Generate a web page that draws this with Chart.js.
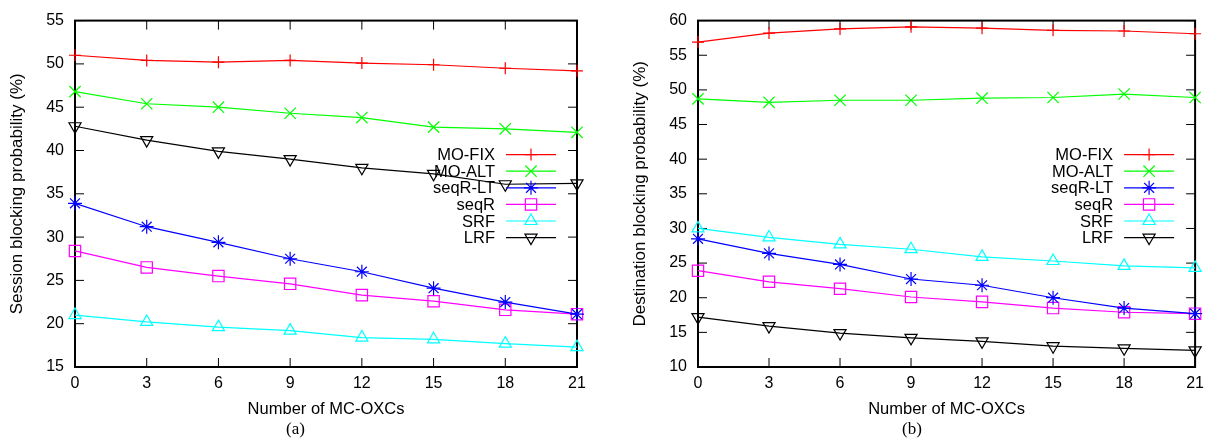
<!DOCTYPE html>
<html>
<head>
<meta charset="utf-8">
<script src="https://cdn.jsdelivr.net/npm/chart.js@4/dist/chart.umd.min.js"></script>
<style>
  body { margin: 0; background: #fff; width: 1211px; height: 441px; position: relative; overflow: hidden; }
  canvas { position: absolute; top: 0; }
  #chartA { left: 0; }
  #chartB { left: 605px; }
  .cap { position: absolute; top: 419px; font: 17px "Liberation Serif", "DejaVu Serif", serif; color: #000; }
</style>
</head>
<body>
<canvas id="chartA" width="605" height="441"></canvas>
<canvas id="chartB" width="606" height="441"></canvas>
<div class="cap" style="left:286px">(a)</div>
<div class="cap" style="left:902px">(b)</div>
<script>
const mcOxcs = [0, 3, 6, 9, 12, 15, 18, 21];
const seriesNames = ["MO-FIX", "MO-ALT", "seqR-LT", "seqR", "SRF", "LRF"];

// (a) session blocking probability (%)
const fixA    = [51.0, 50.4, 50.2, 50.4, 50.1, 49.9, 49.5, 49.2];
const altA    = [46.8, 45.4, 45.0, 44.3, 43.8, 42.7, 42.5, 42.1];
const seqRLTA = [33.9, 31.2, 29.4, 27.5, 26.0, 24.1, 22.5, 21.1];
const seqRA   = [28.4, 26.5, 25.5, 24.6, 23.3, 22.6, 21.6, 21.1];
const srfA    = [21.0, 20.2, 19.6, 19.2, 18.4, 18.2, 17.7, 17.3];
const lrfA    = [42.8, 41.2, 39.9, 39.0, 38.0, 37.3, 36.1, 36.2];

// (b) destination blocking probability (%)
const fixB    = [56.9, 58.2, 58.8, 59.1, 58.9, 58.6, 58.5, 58.1];
const altB    = [48.7, 48.2, 48.5, 48.5, 48.8, 48.9, 49.4, 48.9];
const seqRLTB = [28.5, 26.4, 24.8, 22.7, 21.8, 20.0, 18.5, 17.7];
const seqRB   = [23.9, 22.3, 21.3, 20.1, 19.4, 18.5, 17.9, 17.7];
const srfB    = [30.0, 28.7, 27.7, 27.0, 25.9, 25.3, 24.6, 24.3];
const lrfB    = [17.2, 15.9, 14.9, 14.2, 13.7, 13.0, 12.7, 12.4];

const styles = [
  { color: '#ff0000', pointStyle: 'cross',    radius: 6, rotation: 0 },
  { color: '#00ff00', pointStyle: 'crossRot', radius: 8, rotation: 0 },
  { color: '#0000ff', pointStyle: 'star',     radius: 7, rotation: 0 },
  { color: '#ff00ff', pointStyle: 'rect',     radius: 8, rotation: 0 },
  { color: '#00ffff', pointStyle: 'triangle', radius: 7, rotation: 0 },
  { color: '#000000', pointStyle: 'triangle', radius: 7, rotation: 180 }
];

const FONT = '"Liberation Sans", Arial, Helvetica, sans-serif';
Chart.defaults.color = '#000';
Chart.defaults.font.family = FONT;

function makeDatasets(list) {
  return list.map((vals, i) => ({
    label: seriesNames[i],
    data: vals.map((v, j) => ({ x: mcOxcs[j], y: v })),
    borderColor: styles[i].color,
    backgroundColor: 'rgba(0,0,0,0)',
    borderWidth: 1.2,
    pointStyle: styles[i].pointStyle,
    pointRadius: styles[i].radius,
    pointRotation: styles[i].rotation,
    pointBorderColor: styles[i].color,
    pointBackgroundColor: 'rgba(0,0,0,0)',
    pointBorderWidth: 1.2,
    tension: 0,
    clip: false
  }));
}

// gnuplot-like frame, inward ticks on all four sides
const framePlugin = {
  id: 'frame',
  beforeDatasetsDraw(chart) {
    const { ctx, chartArea: a, scales } = chart;
    ctx.save();
    ctx.strokeStyle = '#000';
    ctx.lineWidth = 1;
    const t = 9;
    scales.x.ticks.forEach(tk => {
      const px = scales.x.getPixelForValue(tk.value);
      ctx.beginPath();
      ctx.moveTo(px, a.bottom); ctx.lineTo(px, a.bottom - t);
      ctx.moveTo(px, a.top); ctx.lineTo(px, a.top + t);
      ctx.stroke();
    });
    scales.y.ticks.forEach(tk => {
      const py = scales.y.getPixelForValue(tk.value);
      ctx.beginPath();
      ctx.moveTo(a.left, py); ctx.lineTo(a.left + t, py);
      ctx.moveTo(a.right, py); ctx.lineTo(a.right - t, py);
      ctx.stroke();
    });
    ctx.lineWidth = 2;
    ctx.strokeRect(a.left, a.top, a.right - a.left, a.bottom - a.top);
    ctx.restore();
  }
};

// key inside the plot: text right aligned, then line sample with marker
const keyPlugin = {
  id: 'gnukey',
  afterDatasetsDraw(chart) {
    const { ctx, chartArea: a } = chart;
    ctx.save();
    ctx.font = '16.5px ' + FONT;
    ctx.textAlign = 'right';
    ctx.textBaseline = 'middle';
    chart.data.datasets.forEach((ds, i) => {
      const y = a.top + 134 + i * 16.6;
      ctx.fillStyle = '#000';
      ctx.fillText(ds.label, a.right - 82, y + 1);
      ctx.strokeStyle = ds.borderColor;
      ctx.lineWidth = 1.2;
      ctx.beginPath();
      ctx.moveTo(a.right - 71, y);
      ctx.lineTo(a.right - 21, y);
      ctx.stroke();
      ctx.fillStyle = 'rgba(0,0,0,0)';
      Chart.helpers.drawPoint(ctx, {
        pointStyle: ds.pointStyle,
        radius: ds.pointRadius,
        rotation: ds.pointRotation,
        borderWidth: 1.2
      }, a.right - 46, y);
    });
    ctx.restore();
  }
};

function makeChart(id, list, yMin, yMax, yTitle, yWidth, yTitlePad, padRight) {
  return new Chart(document.getElementById(id), {
    type: 'line',
    data: { datasets: makeDatasets(list) },
    options: {
      responsive: false,
      animation: false,
      layout: { padding: { top: 17, right: padRight, left: 0, bottom: 0 } },
      plugins: { legend: { display: false }, tooltip: { enabled: false } },
      scales: {
        x: {
          type: 'linear', min: 0, max: 21,
          ticks: { stepSize: 3, padding: 7, font: { size: 16 } },
          grid: { display: false, drawTicks: false },
          border: { display: false },
          title: { display: true, text: 'Number of MC-OXCs', font: { size: 16.5 }, padding: { top: 0, bottom: 22 } },
          afterFit(s) { s.height = 74; }
        },
        y: {
          min: yMin, max: yMax,
          ticks: { stepSize: 5, padding: 11, font: { size: 16 } },
          grid: { display: false, drawTicks: false },
          border: { display: false },
          title: { display: true, text: yTitle, font: { size: 17 }, padding: { top: yTitlePad, bottom: 0 } },
          afterFit(s) { s.width = yWidth; }
        }
      }
    },
    plugins: [framePlugin, keyPlugin]
  });
}

makeChart('chartA', [fixA, altA, seqRLTA, seqRA, srfA, lrfA], 15, 55,
  'Session blocking probability (%)', 75, 7, 28);
makeChart('chartB', [fixB, altB, seqRLTB, seqRB, srfB, lrfB], 10, 60,
  'Destination blocking probability (%)', 93, 25, 11);
</script>
</body>
</html>
